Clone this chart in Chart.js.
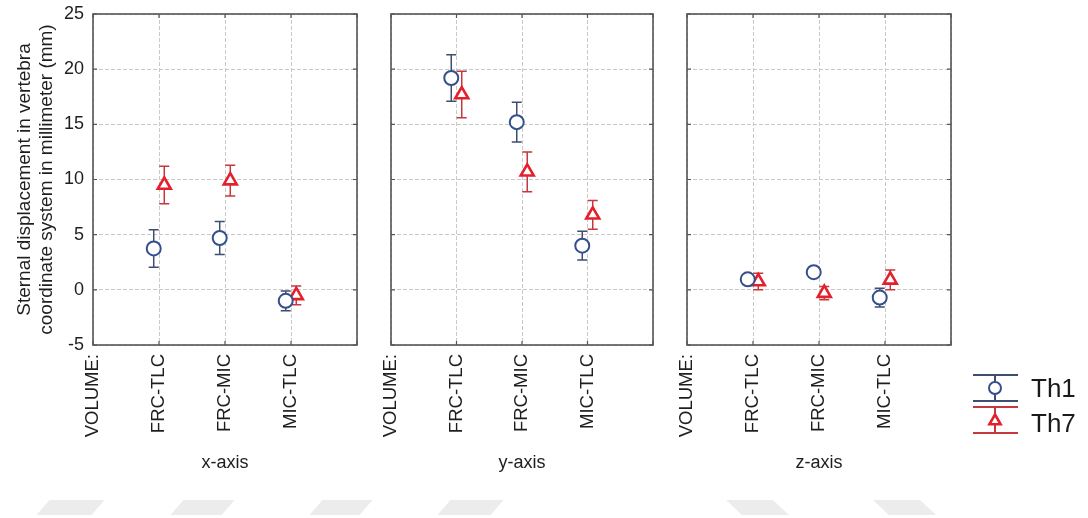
<!DOCTYPE html>
<html>
<head>
<meta charset="utf-8">
<title>Sternal displacement by volume change</title>
<script src="https://cdn.jsdelivr.net/npm/chart.js@4.4.1/dist/chart.umd.min.js"></script>
<style>
  html, body { margin: 0; padding: 0; background: #ffffff; }
  #stage { position: relative; width: 1088px; height: 518px; overflow: hidden; }
  #stage canvas { position: absolute; left: 0; top: 0; }
  .band { position: absolute; top: 500px; height: 15px; background: #ececec; }
</style>
</head>
<body>
<div id="stage">
  <div class="band" style="left:43px;width:55px;transform:skewX(-41deg)"></div>
  <div class="band" style="left:177px;width:51px;transform:skewX(-41deg)"></div>
  <div class="band" style="left:316px;width:50px;transform:skewX(-41deg)"></div>
  <div class="band" style="left:444px;width:53px;transform:skewX(-41deg)"></div>
  <div class="band" style="left:734px;width:47px;transform:skewX(47deg)"></div>
  <div class="band" style="left:881px;width:47px;transform:skewX(47deg)"></div>
  <canvas id="p0" width="1088" height="518"></canvas>
  <canvas id="p1" width="1088" height="518"></canvas>
  <canvas id="p2" width="1088" height="518"></canvas>
</div>
<script>
// Volume comparisons shown on every panel (first slot is the row caption)
const categories = ['VOLUME:', 'FRC-TLC', 'FRC-MIC', 'MIC-TLC'];
const panelTitles = ['x-axis', 'y-axis', 'z-axis'];
const seriesNames = ['Th1', 'Th7'];
const yTickValues = [-5, 0, 5, 10, 15, 20, 25];
const yTitle = ['Sternal displacement in vertebra', 'coordinate system in millimeter (mm)'];

// Means and error half-widths (mm) for FRC-TLC, FRC-MIC, MIC-TLC
const th1X = [3.75, 4.7, -1.0];
const th1XErr = [1.7, 1.5, 0.9];
const th7X = [9.5, 9.9, -0.5];
const th7XErr = [1.7, 1.4, 0.85];

const th1Y = [19.2, 15.2, 4.0];
const th1YErr = [2.1, 1.8, 1.3];
const th7Y = [17.7, 10.7, 6.8];
const th7YErr = [2.1, 1.8, 1.3];

const th1Z = [0.95, 1.6, -0.7];
const th1ZErr = [0.45, 0.4, 0.85];
const th7Z = [0.75, -0.3, 0.9];
const th7ZErr = [0.75, 0.6, 0.9];

const panelMeans = [[th1X, th7X], [th1Y, th7Y], [th1Z, th7Z]];
const panelErrs = [[th1XErr, th7XErr], [th1YErr, th7YErr], [th1ZErr, th7ZErr]];

// Styling
const FONT = "'Liberation Sans', Arial, Helvetica, sans-serif";
const TH1_COLOR = '#34508c';
const TH1_BAR = '#3e4d70';
const TH7_COLOR = '#e3202c';
const TH7_BAR = '#c4383e';
const GRID = '#c9c9c9';
const FRAME = '#555555';
const SHIFT = 0.08;           // horizontal nudge so the two series do not overlap

Chart.defaults.font.family = FONT;
Chart.defaults.color = '#1e1e1e';

// Plot rectangles (left, right) of the three panels; shared top/bottom
const panelLR = [[93, 357], [391, 653], [687, 951]];
const TOP = 14, BOTTOM = 345, W = 1088, H = 518;

const errorBars = {
  id: 'errorBars',
  beforeDatasetsDraw(chart) {
    const { ctx } = chart;
    const ys = chart.scales.y;
    chart.data.datasets.forEach((ds, di) => {
      const meta = chart.getDatasetMeta(di);
      ctx.save();
      ctx.strokeStyle = ds.barColor;
      ctx.lineWidth = 1.5;
      ctx.beginPath();
      meta.data.forEach((pt, i) => {
        const v = ds.data[i].y, e = ds.errors[i];
        const yHi = ys.getPixelForValue(v + e);
        const yLo = ys.getPixelForValue(v - e);
        ctx.moveTo(pt.x, yHi); ctx.lineTo(pt.x, yLo);
        ctx.moveTo(pt.x - 5, yHi); ctx.lineTo(pt.x + 5, yHi);
        ctx.moveTo(pt.x - 5, yLo); ctx.lineTo(pt.x + 5, yLo);
      });
      ctx.stroke();
      ctx.restore();
    });
  }
};

const frame = {
  id: 'frame',
  afterDraw(chart) {
    const { ctx, chartArea: a, scales } = chart;
    ctx.save();
    ctx.strokeStyle = FRAME;
    ctx.lineWidth = 1.2;
    ctx.beginPath();
    scales.x.ticks.forEach(t => {
      const px = scales.x.getPixelForValue(t.value);
      ctx.moveTo(px, a.top); ctx.lineTo(px, a.top + 4);
      ctx.moveTo(px, a.bottom); ctx.lineTo(px, a.bottom - 4);
    });
    scales.y.ticks.forEach(t => {
      const py = scales.y.getPixelForValue(t.value);
      ctx.moveTo(a.left, py); ctx.lineTo(a.left + 4, py);
      ctx.moveTo(a.right, py); ctx.lineTo(a.right - 4, py);
    });
    ctx.stroke();
    ctx.lineWidth = 1.6;
    ctx.strokeRect(a.left, a.top, a.right - a.left, a.bottom - a.top);
    ctx.restore();
  }
};

// Error-bar style key drawn to the right of the last panel
const keyBox = {
  id: 'keyBox',
  afterDraw(chart, args, opts) {
    if (!opts.show) return;
    const { ctx } = chart;
    const cx = 995, x0 = 973, x1 = 1018;
    const rows = [
      { top: 375, bottom: 401, mid: 388, base: 397 },
      { top: 407, bottom: 433, mid: 421, base: 432 }
    ];
    chart.data.datasets.forEach((ds, i) => {
      const r = rows[i];
      ctx.save();
      ctx.strokeStyle = ds.barColor;
      ctx.lineWidth = 2;
      ctx.beginPath();
      ctx.moveTo(x0, r.top); ctx.lineTo(x1, r.top);
      ctx.moveTo(x0, r.bottom); ctx.lineTo(x1, r.bottom);
      ctx.moveTo(cx, r.top); ctx.lineTo(cx, r.bottom);
      ctx.stroke();
      ctx.fillStyle = '#ffffff';
      ctx.strokeStyle = ds.borderColor;
      ctx.lineWidth = ds.borderWidth;
      ctx.beginPath();
      if (ds.pointStyle === 'circle') {
        ctx.arc(cx, r.mid, 6, 0, Math.PI * 2);
      } else {
        ctx.moveTo(cx, r.mid - 6.5);
        ctx.lineTo(cx + 5.6, r.mid + 3.3);
        ctx.lineTo(cx - 5.6, r.mid + 3.3);
        ctx.closePath();
      }
      ctx.fill(); ctx.stroke();
      ctx.fillStyle = '#1a1a1a';
      ctx.font = '26px ' + FONT;
      ctx.textBaseline = 'alphabetic';
      ctx.textAlign = 'left';
      ctx.fillText(ds.label, 1031, r.base);
      ctx.restore();
    });
  }
};

function buildPanel(idx) {
  const [L, R] = panelLR[idx];
  const first = idx === 0;
  const yW = first ? L : 0;
  const xH = H - BOTTOM;
  const datasets = seriesNames.map((name, s) => ({
    label: name,
    data: panelMeans[idx][s].map((v, i) => ({ x: i + 1 + (s === 0 ? -SHIFT : SHIFT), y: v })),
    errors: panelErrs[idx][s],
    barColor: s === 0 ? TH1_BAR : TH7_BAR,
    pointStyle: s === 0 ? 'circle' : 'triangle',
    pointRadius: s === 0 ? 7 : 7.5,
    borderWidth: s === 0 ? 2 : 2.6,
    borderColor: s === 0 ? TH1_COLOR : TH7_COLOR,
    backgroundColor: '#ffffff',
    showLine: false
  }));

  return new Chart(document.getElementById('p' + idx), {
    type: 'scatter',
    data: { datasets },
    options: {
      responsive: false,
      animation: false,
      events: [],
      layout: { padding: { left: L - yW, right: W - R, top: TOP, bottom: 0 } },
      plugins: {
        legend: { display: false },
        tooltip: { enabled: false },
        keyBox: { show: idx === 2 }
      },
      scales: {
        x: {
          type: 'linear',
          position: 'bottom',
          min: 0,
          max: 4,
          afterFit: s => { s.height = xH; s.paddingLeft = 0; s.paddingRight = 0; },
          afterBuildTicks: s => { s.ticks = [0, 1, 2, 3, 4].map(v => ({ value: v })); },
          grid: { color: GRID, lineWidth: 1, drawTicks: false },
          border: { display: false, dash: [4, 2] },
          ticks: {
            padding: 9,
            minRotation: 90,
            maxRotation: 90,
            autoSkip: false,
            font: { size: 18.5 },
            color: '#1e1e1e',
            callback: v => categories[v] || ''
          },
          title: {
            display: true,
            text: panelTitles[idx],
            font: { size: 18 },
            color: '#1e1e1e',
            padding: { top: 0, bottom: 44 }
          }
        },
        y: {
          type: 'linear',
          position: 'left',
          min: -5,
          max: 25,
          afterFit: s => { s.width = yW; s.paddingTop = 0; s.paddingBottom = 0; },
          afterBuildTicks: s => { s.ticks = yTickValues.map(v => ({ value: v })); },
          grid: { color: GRID, lineWidth: 1, drawTicks: false },
          border: { display: false, dash: [4, 2] },
          ticks: {
            display: first,
            padding: 9,
            font: { size: 18 },
            color: '#1e1e1e'
          },
          title: {
            display: first,
            text: yTitle,
            font: { size: 19, lineHeight: 1.16 },
            color: '#1e1e1e',
            padding: { top: 14, bottom: 0 }
          }
        }
      }
    },
    plugins: [errorBars, frame, keyBox]
  });
}

[0, 1, 2].forEach(buildPanel);
</script>
</body>
</html>
